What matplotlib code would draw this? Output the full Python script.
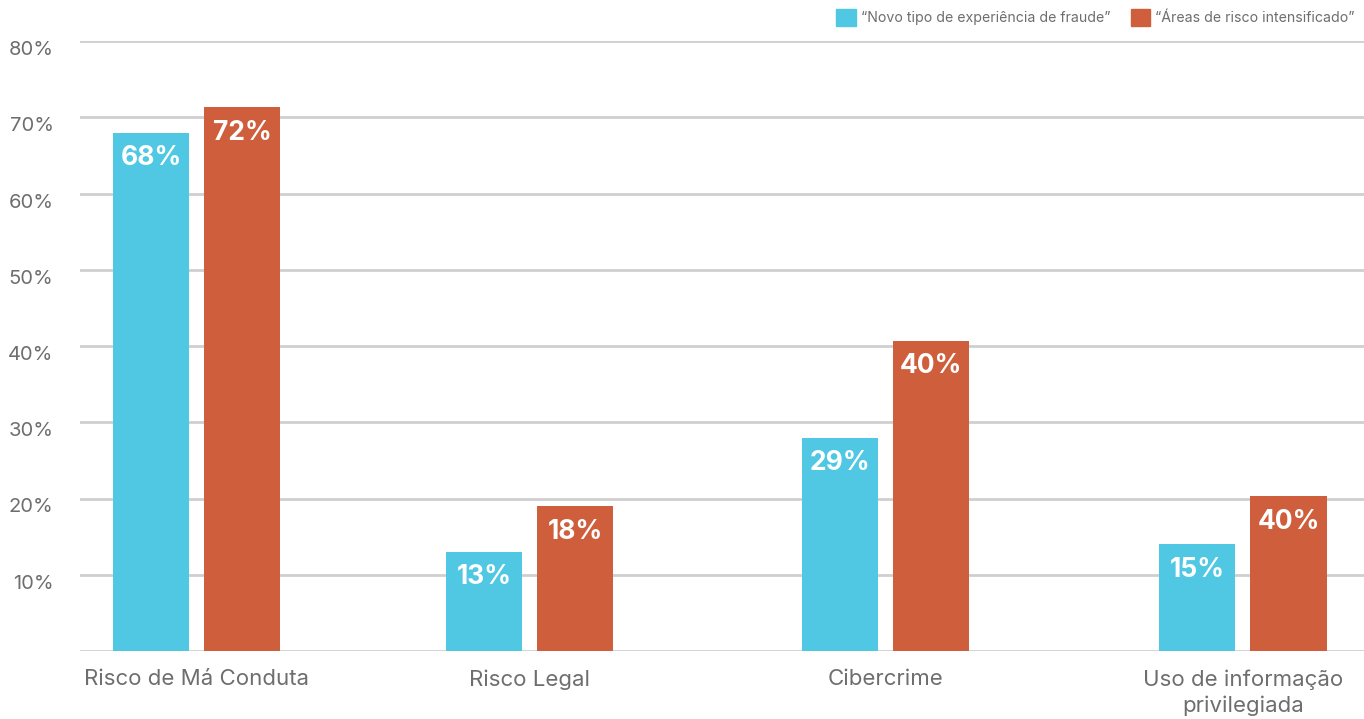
import matplotlib.pyplot as plt
from matplotlib.patches import Patch

plt.rcParams['font.family'] = ['Inter', 'DejaVu Sans']

categories = ["Risco de Má Conduta", "Risco Legal", "Cibercrime", "Uso de informação\nprivilegiada"]
novo_tipo = [68, 13, 28, 14]
areas_risco = [71.3, 19, 40.7, 20.3]
novo_labels = ["68%", "13%", "29%", "15%"]
areas_labels = ["72%", "18%", "40%", "40%"]
series_names = ["\u201cNovo tipo de experiência de fraude\u201d", "\u201cÁreas de risco intensificado\u201d"]
yticks = [0, 10, 20, 30, 40, 50, 60, 70, 80]
ytick_labels = ["", "10%", "20%", "30%", "40%", "50%", "60%", "70%", "80%"]

cyan = "#50C8E3"
orange = "#CF5F3C"
grey_text = "#6e6e6e"

# group centres (slightly uneven, as in the original layout)
group_pos = [0, 0.955, 1.975, 3]
width = 0.218
offset = 0.1305

fig = plt.figure(figsize=(13.64, 7.19), dpi=100)
ax = fig.add_axes([80 / 1364, 1 - 651 / 719, 1 - 80 / 1364, (651 - 41) / 719])

ax.set_ylim(0, 80)
ax.set_xlim(-0.334, 3.347)

for y in yticks:
    ax.axhline(y, color="#cfcfcf", lw=2.0, zorder=0)

b1 = ax.bar([p - offset for p in group_pos], novo_tipo, width=width, color=cyan, zorder=2)
b2 = ax.bar([p + offset for p in group_pos], areas_risco, width=width, color=orange, zorder=2)

for bars, labels in [(b1, novo_labels), (b2, areas_labels)]:
    for bar, lab in zip(bars, labels):
        ax.annotate(lab, (bar.get_x() + bar.get_width() / 2, bar.get_height()),
                    xytext=(0, -9), textcoords="offset points",
                    ha="center", va="top", color="white",
                    fontsize=19, fontweight="bold", zorder=3)

for s in ax.spines.values():
    s.set_visible(False)

ax.set_yticks(yticks)
ax.set_yticklabels(ytick_labels, fontsize=14.5, color=grey_text, va="top")
for t in ax.get_yticklabels():
    t.set_y(t.get_position()[1])
ax.tick_params(axis="y", length=0, pad=19)
ax.set_xticks(group_pos)
ax.set_xticklabels(categories, fontsize=16, color=grey_text, linespacing=1.35)
ax.tick_params(axis="x", length=0, pad=13)

handles = [Patch(color=cyan), Patch(color=orange)]
fig.legend(handles, series_names, loc="upper right", bbox_to_anchor=(1.0, 1.0),
           ncol=2, frameon=False, handlelength=1.4, handleheight=1.4,
           handletextpad=0.35, columnspacing=1.4, labelcolor=grey_text,
           borderaxespad=0.25, prop={'size': 10.2})

fig.savefig("out.png", dpi=100)
